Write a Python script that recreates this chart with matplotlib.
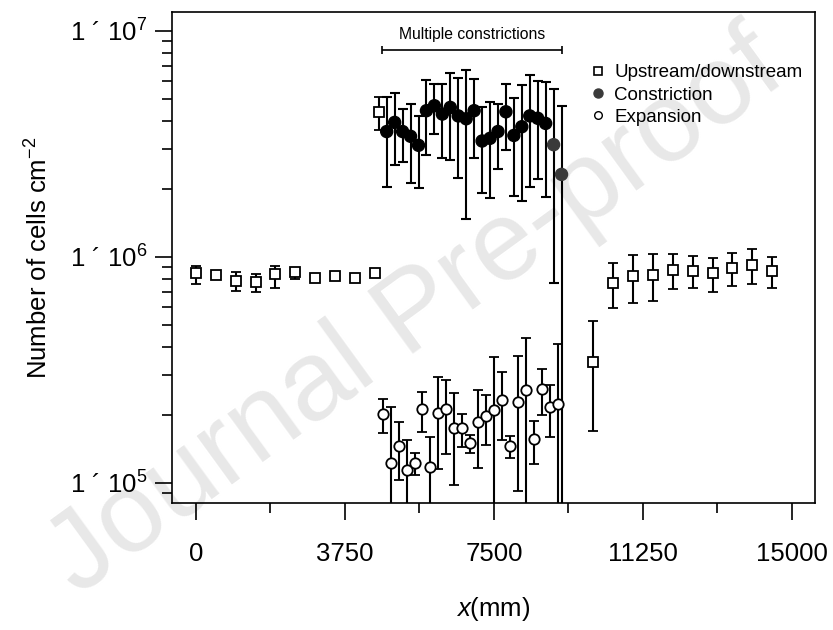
# Cell counts along the channel, log y axis with error bars
import numpy as np
import matplotlib.pyplot as plt
from matplotlib.lines import Line2D
from matplotlib.ticker import FixedLocator, LogLocator, NullFormatter

plt.rcParams["font.family"] = ["Liberation Sans", "DejaVu Sans"]
plt.rcParams["mathtext.fontset"] = "custom"
plt.rcParams["mathtext.rm"] = "Liberation Sans"
plt.rcParams["mathtext.it"] = "Liberation Sans:italic"

# upstream / downstream sections (squares)
up_x = [0, 500, 1000, 1500, 2000, 2500, 3000, 3500, 4000, 4500, 4600,
        10000, 10500, 11000, 11500, 12000, 12500, 13000, 13500, 14000, 14500]
up_y = [8.47e5, 8.32e5, 7.83e5, 7.73e5, 8.37e5, 8.55e5, 8.10e5, 8.26e5, 8.10e5, 8.47e5, 4.36e6,
        3.44e5, 7.65e5, 8.24e5, 8.32e5, 8.75e5, 8.66e5, 8.47e5, 8.97e5, 9.22e5, 8.66e5]
up_hi = [9.14e5, 8.55e5, 8.55e5, 8.40e5, 9.14e5, 8.90e5, 8.30e5, 8.60e5, 8.30e5, 8.60e5, 5.09e6,
         5.22e5, 9.38e5, 1.02e6, 1.03e6, 1.03e6, 1.01e6, 9.93e5, 1.04e6, 1.08e6, 1.00e6]
up_lo = [7.60e5, 8.13e5, 7.10e5, 7.00e5, 7.30e5, 8.00e5, 7.80e5, 7.95e5, 7.90e5, 8.26e5, 3.65e6,
         1.69e5, 5.97e5, 6.28e5, 6.41e5, 7.21e5, 7.29e5, 6.98e5, 7.46e5, 7.57e5, 7.31e5]

# constrictions (filled circles)
con_x = [4800, 5000, 5200, 5400, 5600, 5800, 6000, 6200, 6400, 6600, 6800, 7000,
         7200, 7400, 7600, 7800, 8000, 8200, 8400, 8600, 8800, 9000, 9200]
con_y = [3.59e6, 3.94e6, 3.59e6, 3.42e6, 3.12e6, 4.44e6, 4.67e6, 4.29e6, 4.59e6, 4.21e6, 4.09e6, 4.44e6,
         3.26e6, 3.35e6, 3.59e6, 4.39e6, 3.45e6, 3.77e6, 4.21e6, 4.11e6, 3.90e6, 3.14e6, 2.32e6]
con_hi = [5.12e6, 5.30e6, 4.53e6, 4.74e6, 4.22e6, 6.07e6, 5.82e6, 5.82e6, 6.50e6, 6.19e6, 6.72e6, 6.14e6,
          4.62e6, 4.86e6, 4.74e6, 5.82e6, 5.07e6, 5.78e6, 6.38e6, 6.01e6, 5.97e6, 5.54e6, 4.67e6]
# 1e4 = lower end falls below the axis
con_lo = [2.05e6, 2.56e6, 2.64e6, 2.12e6, 2.01e6, 2.83e6, 3.50e6, 2.75e6, 2.70e6, 2.23e6, 1.47e6, 2.75e6,
          1.91e6, 1.82e6, 2.45e6, 2.98e6, 1.87e6, 1.77e6, 2.05e6, 2.21e6, 1.85e6, 7.67e5, 1e4]

# expansions (open circles)
exp_x = [4700, 4900, 5100, 5300, 5500, 5700, 5900, 6100, 6300, 6500, 6700, 6900,
         7100, 7300, 7500, 7700, 7900, 8100, 8300, 8500, 8700, 8900, 9100]
exp_y = [2.02e5, 1.23e5, 1.46e5, 1.14e5, 1.23e5, 2.12e5, 1.18e5, 2.05e5, 2.12e5, 1.75e5, 1.75e5, 1.50e5,
         1.87e5, 1.97e5, 2.11e5, 2.34e5, 1.46e5, 2.29e5, 2.57e5, 1.56e5, 2.61e5, 2.16e5, 2.24e5]
exp_hi = [2.35e5, 2.18e5, 1.87e5, 1.55e5, 1.36e5, 2.53e5, 1.60e5, 2.95e5, 2.86e5, 2.50e5, 2.02e5, 1.63e5,
          2.58e5, 2.44e5, 3.62e5, 3.11e5, 1.62e5, 3.65e5, 4.36e5, 1.89e5, 3.21e5, 2.71e5, 4.12e5]
exp_lo = [1.67e5, 1e4, 1.03e5, 1e4, 1.08e5, 1.68e5, 1e4, 1.15e5, 1.34e5, 9.8e4, 1.45e5, 1.36e5,
          1.17e5, 1.47e5, 1e4, 1.55e5, 1.29e5, 9.24e4, 1e4, 1.21e5, 2.00e5, 1.59e5, 1e4]

con_colors = ["black"] * 21 + ["#3a3a3a", "#3a3a3a"]

fig = plt.figure(figsize=(8.33, 6.3), dpi=100)
fig.patch.set_facecolor("white")
ax = fig.add_axes([172 / 833, 1 - 503 / 630, (815 - 172) / 833, (503 - 12) / 630])
ax.set_facecolor("none")

# faint watermark behind the plot
fig.text(0.5, 0.5, "Journal Pre-proof", fontsize=82, color="#e8e8e8",
         rotation=36, ha="center", va="center", zorder=-5)

eb = dict(ecolor="black", elinewidth=1.5, capsize=3.5, capthick=1.5, ls="none")


def err(y, lo, hi):
    y, lo, hi = np.array(y), np.array(lo), np.array(hi)
    return [y - lo, hi - y]


ax.errorbar(exp_x, exp_y, yerr=err(exp_y, exp_lo, exp_hi), fmt="o", ms=7.5,
            mfc="white", mec="black", mew=1.3, **eb)
ax.errorbar(up_x, up_y, yerr=err(up_y, up_lo, up_hi), fmt="s", ms=6.5,
            mfc="white", mec="black", mew=1.3, **eb)
ax.errorbar(con_x, con_y, yerr=err(con_y, con_lo, con_hi), fmt="none", **eb)
ax.scatter(con_x, con_y, s=75, c=con_colors, zorder=3)

ax.set_yscale("log")
ax.set_xlim(-604, 15579)
ax.set_ylim(10 ** 4.9115, 10 ** 7.084)

ax.xaxis.set_major_locator(FixedLocator([0, 3750, 7500, 11250, 15000]))
ax.xaxis.set_minor_locator(FixedLocator([1875, 5625, 9375, 13125]))
ax.set_xticklabels(["0", "3750", "7500", "11250", "15000"])
ax.yaxis.set_major_locator(FixedLocator([1e5, 1e6, 1e7]))
ax.yaxis.set_minor_locator(LogLocator(base=10, subs=np.arange(2, 10)))
ax.yaxis.set_minor_formatter(NullFormatter())
ax.set_yticklabels(["1 \u00b4 10$^{5}$", "1 \u00b4 10$^{6}$", "1 \u00b4 10$^{7}$"])

ax.tick_params(which="major", length=12, width=1.2, labelsize=18.5)
ax.tick_params(which="minor", length=7, width=1.2)
ax.tick_params(axis="x", pad=16)
ax.tick_params(axis="y", pad=6)
for s in ax.spines.values():
    s.set_linewidth(1.2)

ax.set_xlabel("$x$(mm)", fontsize=18.5, labelpad=21)
ax.set_ylabel("Number of cells cm$^{-2}$", fontsize=18.5, labelpad=12)

# bracket over the constriction section
ax.errorbar(6945, 8.2e6, xerr=2265, color="black", lw=1.2, capsize=3, capthick=1.2)
ax.text(6945, 8.95e6, "Multiple constrictions", ha="center", va="bottom", fontsize=11.3)

handles = [
    Line2D([], [], ls="none", marker="s", ms=5.5, mfc="white", mec="black", mew=1.2),
    Line2D([], [], ls="none", marker="o", ms=6.5, mfc="#3a3a3a", mec="#3a3a3a"),
    Line2D([], [], ls="none", marker="o", ms=5.5, mfc="white", mec="black", mew=1.0),
]
ax.legend(handles, ["Upstream/downstream", "Constriction", "Expansion"],
          loc="upper left", bbox_to_anchor=(590 / 833, 1 - 64 / 630),
          bbox_transform=fig.transFigure, frameon=False, fontsize=13.5,
          handlelength=0.8, handletextpad=0.5, labelspacing=0.28, borderpad=0,
          borderaxespad=0)

fig.savefig("out.png", dpi=100)
